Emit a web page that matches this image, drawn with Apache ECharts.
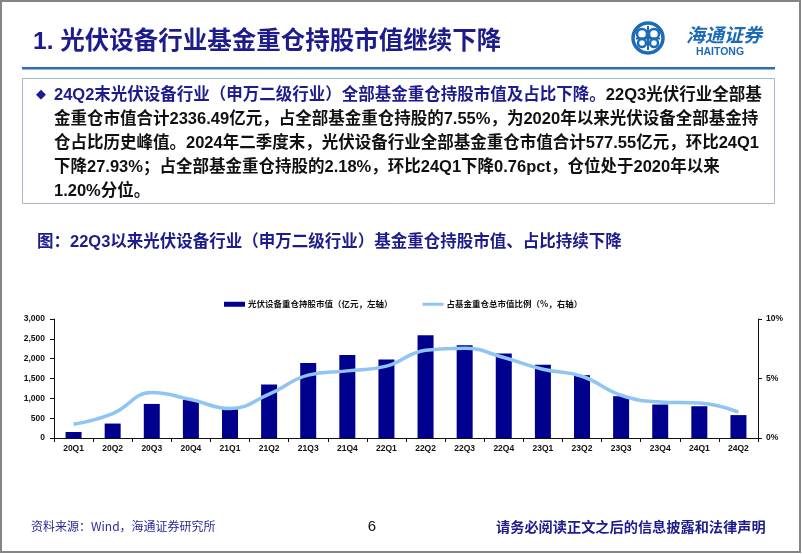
<!DOCTYPE html>
<html>
<head>
<meta charset="utf-8">
<script src="https://cdn.jsdelivr.net/npm/echarts@6/dist/echarts.min.js"></script>
<style>
html,body{margin:0;padding:0;background:#fff;}
#main{width:802px;height:554px;}
</style>
</head>
<body>
<div id="main"></div>
<script>
// ---- data ----
var categories = ['20Q1','20Q2','20Q3','20Q4','21Q1','21Q2','21Q3','21Q4','22Q1','22Q2','22Q3','22Q4','23Q1','23Q2','23Q3','23Q4','24Q1','24Q2'];
var marketValue = [152, 364, 859, 960, 768, 1349, 1888, 2090, 1981, 2588, 2336.49, 2133, 1845, 1584, 1054, 844, 801, 577.55];
var ratioPct = [1.15, 2.05, 3.82, 3.23, 2.47, 3.68, 5.28, 5.64, 6.04, 7.38, 7.55, 6.76, 5.78, 5.19, 3.59, 3.03, 2.94, 2.18];
var leftTicks = {min: 0, max: 3000, interval: 500};
var rightTicks = {min: 0, max: 10, interval: 5};
var seriesNames = ['光伏设备重仓持股市值（亿元，左轴）', '占基金重仓总市值比例（%，右轴）'];
var pageTitle = '1. 光伏设备行业基金重仓持股市值继续下降';
var chartTitle = '图：22Q3以来光伏设备行业（申万二级行业）基金重仓持股市值、占比持续下降';
var bodyLines = [
  [['b','24Q2末光伏设备行业（申万二级行业）全部基金重仓持股市值及占比下降。'],['k','22Q3光伏行业全部基']],
  [['k','金重仓市值合计2336.49亿元，占全部基金重仓持股的7.55%，为2020年以来光伏设备全部基金持']],
  [['k','仓占比历史峰值。2024年二季度末，光伏设备行业全部基金重仓市值合计577.55亿元，环比24Q1']],
  [['k','下降27.93%；占全部基金重仓持股的2.18%，环比24Q1下降0.76pct，仓位处于2020年以来']],
  [['k','1.20%分位。']]
];
var sourceText = '资料来源：Wind，海通证券研究所';
var pageNum = '6';
var disclaimer = '请务必阅读正文之后的信息披露和法律声明';

// ---- styles ----
var NAVY = '#1c1c8c';
var CJK = "'Liberation Sans Narrow','Liberation Sans','Noto Sans CJK SC',sans-serif";
var AX = "'Liberation Sans','Noto Sans CJK SC',sans-serif";

var graphics = [];
// page border
graphics.push({type:'rect', shape:{x:1,y:1,width:799,height:551}, style:{fill:null, stroke:'#858585', lineWidth:2}, silent:true});
// title
graphics.push({type:'text', x:33, y:42, style:{text:pageTitle, fill:NAVY, font:"bold 24.5px " + CJK, textVerticalAlign:'middle'}});
// title underline
graphics.push({type:'rect', shape:{x:22,y:67,width:753,height:2.5}, style:{fill:'#2f6db3'}});
// logo
graphics.push({type:'circle', shape:{cx:648,cy:38,r:15}, style:{fill:null, stroke:'#1d6bb6', lineWidth:3.5}});
graphics.push({type:'circle', shape:{cx:642,cy:34,r:5}, style:{fill:null, stroke:'#1d6bb6', lineWidth:2.5}});
graphics.push({type:'circle', shape:{cx:654,cy:34,r:5}, style:{fill:null, stroke:'#1d6bb6', lineWidth:2.5}});
graphics.push({type:'circle', shape:{cx:642,cy:43,r:4}, style:{fill:null, stroke:'#1d6bb6', lineWidth:2.5}});
graphics.push({type:'circle', shape:{cx:654,cy:43,r:4}, style:{fill:null, stroke:'#1d6bb6', lineWidth:2.5}});
graphics.push({type:'rect', shape:{x:636,y:37.5,width:24,height:2}, style:{fill:'#1d6bb6'}});
graphics.push({type:'rect', shape:{x:647,y:26,width:2,height:24}, style:{fill:'#1d6bb6'}});
graphics.push({type:'text', x:724, y:35, style:{text:'海通证券', fill:'#1d6bb6', font:"italic bold 19px 'Noto Sans CJK SC',sans-serif", textAlign:'center', textVerticalAlign:'middle'}});
graphics.push({type:'text', x:720, y:52, style:{text:'HAITONG', fill:'#1d6bb6', font:"bold 10.5px 'Liberation Sans',sans-serif", textAlign:'center', textVerticalAlign:'middle'}});
// text box
graphics.push({type:'rect', shape:{x:22.5,y:78.5,width:752,height:125}, style:{fill:null, stroke:'#a9b6c9', lineWidth:1}});
graphics.push({type:'text', x:36, y:95, style:{text:'◆', fill:NAVY, font:"13px 'DejaVu Sans',sans-serif", textVerticalAlign:'middle'}});
bodyLines.forEach(function(line, i){
  var txt = line.map(function(p){ return '{' + p[0] + '|' + p[1] + '}'; }).join('');
  graphics.push({type:'text', x:54, y:95 + i*24, style:{
    text: txt, textVerticalAlign:'middle',
    rich:{
      b:{fill:NAVY, font:"bold 16.5px " + CJK},
      k:{fill:'#111', font:"bold 16.5px " + CJK}
    }
  }});
});
// chart title
graphics.push({type:'text', x:37, y:242, style:{text:chartTitle, fill:NAVY, font:"bold 16.5px " + CJK, textVerticalAlign:'middle'}});
// footer
graphics.push({type:'text', x:31, y:526, style:{text:sourceText, fill:'#2a2a9a', font:"12px 'Noto Sans CJK SC',sans-serif", textVerticalAlign:'middle'}});
graphics.push({type:'text', x:372, y:527, style:{text:pageNum, fill:'#111', font:"15px 'Liberation Sans',sans-serif", textAlign:'center', textVerticalAlign:'middle'}});
graphics.push({type:'text', x:496, y:527, style:{text:disclaimer, fill:NAVY, font:"bold 14.2px 'Noto Sans CJK SC',sans-serif", textVerticalAlign:'middle'}});

var chart = echarts.init(document.getElementById('main'), null, {renderer:'canvas'});
var axisLabelStyle = {color:'#111', fontSize:8.5, fontWeight:'bold', fontFamily:AX};
chart.setOption({
  animation:false,
  backgroundColor:'#fff',
  graphic:graphics,
  legend:{
    left:219, top:295, itemWidth:21, itemHeight:5, itemGap:30,
    textStyle:{fontSize:8.5, color:'#111', fontFamily:"'Noto Sans CJK SC',sans-serif", fontWeight:'bold', padding:[0,0,0,-2]},
    data:[{name:seriesNames[0], icon:'rect'}, {name:seriesNames[1], icon:'path://M0,0 L21,0 L21,3 L0,3 Z'}]
  },
  grid:{left:54, right:44, top:319, bottom:116},
  xAxis:{
    type:'category', data:categories, boundaryGap:true,
    axisLine:{lineStyle:{color:'#111', width:1}},
    axisTick:{show:true, length:4, alignWithLabel:false, lineStyle:{color:'#111'}},
    axisLabel:Object.assign({margin:6, interval:0}, axisLabelStyle)
  },
  yAxis:[
    {type:'value', min:leftTicks.min, max:leftTicks.max, interval:leftTicks.interval,
     axisLine:{show:true, lineStyle:{color:'#111'}}, axisTick:{show:true, length:4, lineStyle:{color:'#111'}},
     splitLine:{show:false},
     axisLabel:Object.assign({margin:9, formatter:function(v){ return v.toLocaleString('en-US'); }}, axisLabelStyle)},
    {type:'value', min:rightTicks.min, max:rightTicks.max, interval:rightTicks.interval, position:'right',
     axisLine:{show:true, lineStyle:{color:'#111'}}, axisTick:{show:true, length:4, lineStyle:{color:'#111'}},
     splitLine:{show:false},
     axisLabel:Object.assign({margin:8, formatter:'{value}%'}, axisLabelStyle)}
  ],
  series:[
    {name:seriesNames[0], type:'bar', data:marketValue, yAxisIndex:0, barWidth:16,
     itemStyle:{color:'#00008f'}},
    {name:seriesNames[1], type:'line', data:ratioPct, yAxisIndex:1, smooth:0.45, symbol:'none',
     lineStyle:{color:'#8fc4f3', width:3.5}, itemStyle:{color:'#8fc4f3'}, z:3}
  ]
});
</script>
</body>
</html>
